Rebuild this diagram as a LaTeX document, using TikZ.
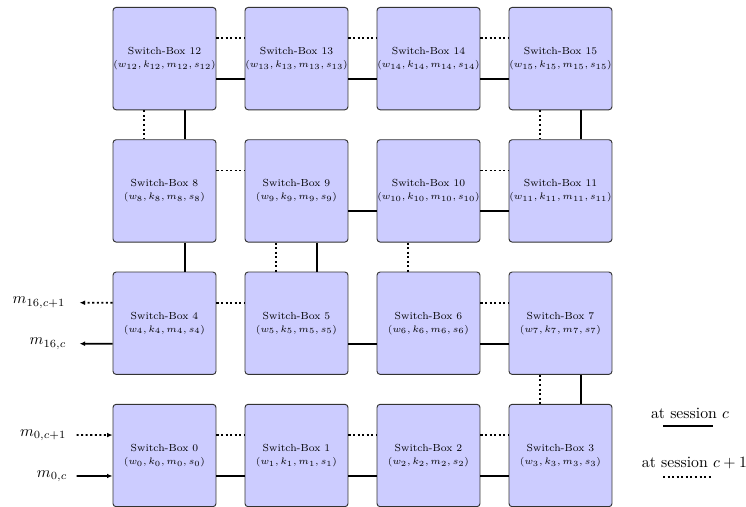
\documentclass[tikz,border=0pt]{standalone}
\usetikzlibrary{calc,arrows.meta}
\begin{document}
\begin{tikzpicture}[x=0.635pt,y=-0.635pt,
  sbox/.style={draw=black!80,line width=0.6pt,fill=blue!20,rounded corners=2pt,
    minimum width=65.4pt,minimum height=65pt,inner sep=0pt,align=center,
    font=\fontsize{6.5}{8.3}\selectfont},
  solline/.style={line width=1.15pt,black},
  dotline/.style={line width=1.15pt,black,dash pattern=on 1.3pt off 1.6pt},
  arr/.style={-{Latex[length=3.5pt,width=3pt]}},
  lbl/.style={inner sep=0pt,anchor=east}]
\useasboundingbox (0,0) rectangle (746,506);
\foreach \i in {0,...,15}{
  \pgfmathtruncatemacro{\c}{mod(\i,4)}
  \pgfmathtruncatemacro{\r}{div(\i,4)}
  \pgfmathsetmacro{\cx}{164.5+132*\c}
  \pgfmathsetmacro{\cy}{455.5-132.3*\r}
  \node[sbox] (b\i) at (\cx,\cy) {Switch-Box \i\\$(w_{\i},k_{\i},m_{\i},s_{\i})$};
}
% horizontal connections
\foreach \a/\b in {12/13,13/14,14/15,10/11,6/7,0/1,1/2,2/3,8/9,4/5}
  \draw[dotline] ([yshift=13pt]b\a.east) -- ([yshift=13pt]b\b.west);
\foreach \a/\b in {12/13,13/14,14/15,10/11,6/7,0/1,1/2,2/3,9/10,5/6}
  \draw[solline] ([yshift=-13pt]b\a.east) -- ([yshift=-13pt]b\b.west);
% vertical connections
\foreach \a/\b in {12/8,15/11,9/5,7/3,10/6}
  \draw[dotline] ([xshift=-13pt]b\a.south) -- ([xshift=-13pt]b\b.north);
\foreach \a/\b in {12/8,15/11,9/5,7/3,8/4}
  \draw[solline] ([xshift=13pt]b\a.south) -- ([xshift=13pt]b\b.north);
% outputs
\coordinate (o16d) at ($(b4.west)+(-33,-20.5)$);
\coordinate (o16s) at ($(b4.west)+(-33,20.5)$);
\draw[dotline,arr] ([yshift=13pt]b4.west) -- (o16d);
\draw[solline,arr] ([yshift=-13pt]b4.west) -- (o16s);
\node[lbl] (l16d) at ($(b4.west)+(-47,-20.5)$) {$m_{16,c+1}$};
\node[lbl] (l16s) at ($(b4.west)+(-46,20.5)$) {$m_{16,c}$};
% inputs
\coordinate (i0d) at ($(b0.west)+(-36,-20.5)$);
\coordinate (i0s) at ($(b0.west)+(-36,20.5)$);
\draw[dotline,arr] (i0d) -- ([yshift=13pt]b0.west);
\draw[solline,arr] (i0s) -- ([yshift=-13pt]b0.west);
\node[lbl] (l0d) at ($(b0.west)+(-46,-20.5)$) {$m_{0,c+1}$};
\node[lbl] (l0s) at ($(b0.west)+(-45,20.5)$) {$m_{0,c}$};
% legend
\node[inner sep=0pt] (lg1) at (690,413) {at session $c$};
\coordinate (lg1a) at (663,426);
\coordinate (lg1b) at (713,426);
\draw[solline] (lg1a) -- (lg1b);
\node[inner sep=0pt] (lg2) at (694.5,463) {at session $c+1$};
\coordinate (lg2a) at (663,477);
\coordinate (lg2b) at (713,477);
\draw[dotline] (lg2a) -- (lg2b);
\end{tikzpicture}
\end{document}
